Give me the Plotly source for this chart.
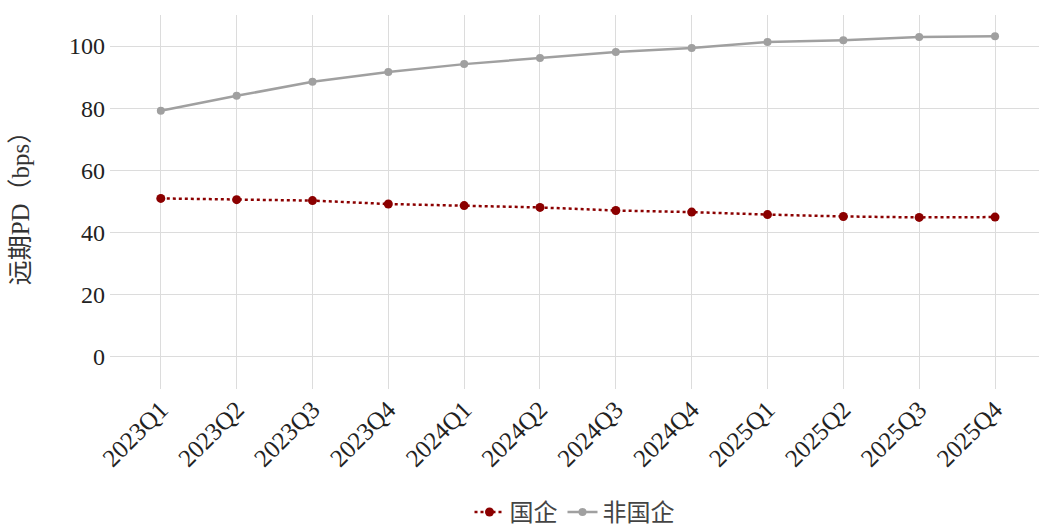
import plotly.graph_objects as go

quarters = ["2023Q1", "2023Q2", "2023Q3", "2023Q4", "2024Q1", "2024Q2",
            "2024Q3", "2024Q4", "2025Q1", "2025Q2", "2025Q3", "2025Q4"]
soe = [51.0, 50.6, 50.3, 49.2, 48.7, 48.1, 47.1, 46.6, 45.8, 45.2, 44.9, 45.0]
non_soe = [79.2, 84.0, 88.5, 91.7, 94.2, 96.2, 98.1, 99.4, 101.3, 101.9, 102.9, 103.2]
y_ticks = [0, 20, 40, 60, 80, 100]

FONT = "Liberation Serif, Noto Sans CJK SC, serif"

fig = go.Figure()
fig.add_trace(go.Scatter(
    x=quarters, y=soe, name="国企", mode="lines+markers",
    line=dict(color="#8B0000", width=2.5, dash="dot"),
    marker=dict(color="#8B0000", size=9),
))
fig.add_trace(go.Scatter(
    x=quarters, y=non_soe, name="非国企", mode="lines+markers",
    line=dict(color="#A0A0A0", width=2.5),
    marker=dict(color="#A0A0A0", size=8),
))

fig.update_layout(
    width=1039, height=525,
    margin=dict(l=110, r=0, t=15, b=136),
    paper_bgcolor="white", plot_bgcolor="white",
    font=dict(family=FONT, size=22, color="#222222"),
    showlegend=True,
    legend=dict(orientation="h", xref="paper", yref="container",
                x=0.5, xanchor="center", y=0.024, yanchor="middle",
                font=dict(family=FONT, size=24, color="#444444")),
    xaxis=dict(
        type="category", range=[-0.67, 11.58], tickangle=-45,
        showgrid=True, gridcolor="#DCDCDC", gridwidth=1,
        zeroline=False, showline=False, ticks="", automargin=False,
        tickfont=dict(family=FONT, size=25, color="#222222"),
    ),
    yaxis=dict(
        range=[-10.3, 110], tickvals=y_ticks,
        showgrid=True, gridcolor="#DCDCDC", gridwidth=1,
        zeroline=False, showline=False, ticks="", automargin=False,
        ticklabelstandoff=4,
        tickfont=dict(family=FONT, size=24, color="#222222"),
        title=dict(text="远期PD（bps）", font=dict(family=FONT, size=25, color="#333333"), standoff=32),
    ),
)

fig.write_html("out.html")
